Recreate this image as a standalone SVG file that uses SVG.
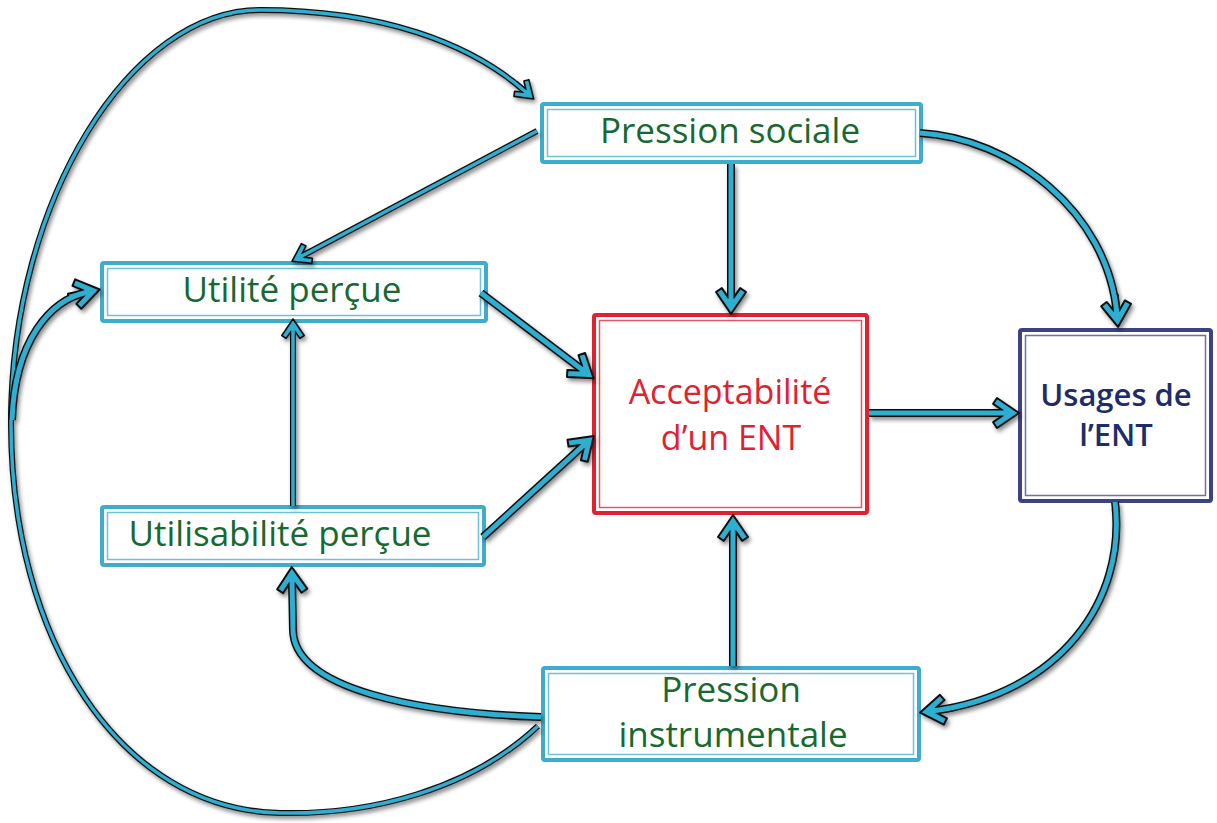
<svg xmlns="http://www.w3.org/2000/svg" width="1217" height="823" viewBox="0 0 1217 823">
<style>
.box{fill:#fff;stroke:#3eaccb;stroke-width:4}
.inner{fill:none;stroke:#6cc2d9;stroke-width:1.5}
.rbox{fill:#fff;stroke:#e0222f;stroke-width:4}
.rinner{fill:none;stroke:#e65560;stroke-width:1.5}
.nbox{fill:#fff;stroke:#3d4282;stroke-width:4}
.ninner{fill:none;stroke:#6e72a3;stroke-width:1.5}
.g{font-family:"Open Sans","Liberation Sans",sans-serif;font-size:35px;font-weight:500;fill:#16692f;text-anchor:middle}
.r{font-family:"Open Sans","Liberation Sans",sans-serif;font-size:34px;font-weight:500;fill:#e0222f;text-anchor:middle}
.n{font-family:"Open Sans","Liberation Sans",sans-serif;font-size:31px;font-weight:600;fill:#1d2c6b;text-anchor:middle}
.o{fill:none;stroke:#111;stroke-width:8;stroke-linecap:butt}
.f{fill:none;stroke:#2eaed0;stroke-width:5;stroke-linecap:butt}
.ot{fill:none;stroke:#111;stroke-width:6}
.ft{fill:none;stroke:#2eaed0;stroke-width:3.5}
.big{marker-end:url(#ah)}
.sm{marker-end:url(#ahs)}
</style>
<defs>
<marker id="ah" markerUnits="userSpaceOnUse" viewBox="-25 -20 40 40" refX="0" refY="0" markerWidth="40" markerHeight="40" orient="auto" overflow="visible">
<polygon points="12,0 -10,-15 -13.9,-9.2 -4.1,-2.5 -20,-2.5 -20,2.5 -4.1,2.5 -13.9,9.2 -10,15" fill="#2eaed0" stroke="#111" stroke-width="2" stroke-linejoin="round"/>
</marker>
<marker id="ahs" markerUnits="userSpaceOnUse" viewBox="-25 -20 40 40" refX="0" refY="0" markerWidth="40" markerHeight="40" orient="auto" overflow="visible">
<polygon points="9,0 -7.5,-11.2 -10.4,-6.9 -3.1,-1.8 -15,-1.8 -15,1.8 -3.1,1.8 -10.4,6.9 -7.5,11.2" fill="#2eaed0" stroke="#111" stroke-width="1.6" stroke-linejoin="round"/>
</marker>
<filter id="sh" x="-5%" y="-5%" width="110%" height="110%">
<feDropShadow dx="2" dy="3" stdDeviation="2" flood-color="#000" flood-opacity="0.45"/>
</filter>
<path id="p1" d="M731,164 L731,302"/>
<path id="p2" d="M537,131 L300,257"/>
<path id="p3" d="M920,133 C1010,138 1108,210 1117,315"/>
<path id="p4" d="M481,293 L584,371"/>
<path id="p5" d="M483,537 L585,444"/>
<path id="p6" d="M293,506 L293,328"/>
<path id="p7" d="M869,413 L1007,413"/>
<path id="p8" d="M1115,502 C1127,600 1060,694 932,711"/>
<path id="p9" d="M733,666 L733,527"/>
<path id="p10" d="M541,717 C420,713 294,690 293,630 L292,579"/>
<path id="p11" d="M538,726 C470,790 370,815 280,813 C120,810 10,640 11,420 C12,200 130,10 260,10 C380,10 470,42 527,93"/>
<path id="p12" d="M12,420 C15,340 50,300 88,292"/>
</defs>

<g id="node-pression-sociale">
<rect class="box" x="542" y="104" width="379" height="58" rx="2"/>
<rect class="inner" x="547.5" y="109.5" width="368" height="47"/>
<text class="g" x="730" y="143">Pression sociale</text>
</g>
<g id="node-utilite">
<rect class="box" x="102" y="263" width="384" height="58" rx="2"/>
<rect class="inner" x="107.5" y="268.5" width="373" height="47"/>
<text class="g" x="292" y="302">Utilité perçue</text>
</g>
<g id="node-utilisabilite">
<rect class="box" x="102" y="507" width="382" height="58" rx="2"/>
<rect class="inner" x="107.5" y="512.5" width="371" height="47"/>
<text class="g" x="280" y="546">Utilisabilité perçue</text>
</g>
<g id="node-acceptabilite">
<rect class="rbox" x="594" y="315" width="273" height="198" rx="2"/>
<rect class="rinner" x="599.5" y="320.5" width="262" height="187"/>
<text class="r" x="730" y="404">Acceptabilité</text>
<text class="r" x="731" y="450">d’un ENT</text>
</g>
<g id="node-usages">
<rect class="nbox" x="1020" y="330" width="191" height="171" rx="2"/>
<rect class="ninner" x="1025.5" y="335.5" width="180" height="160"/>
<text class="n" x="1116" y="406">Usages de</text>
<text class="n" x="1116" y="446">l’ENT</text>
</g>
<g id="node-pression-instrumentale">
<rect class="box" x="543" y="668" width="376" height="92" rx="2"/>
<rect class="inner" x="548.5" y="673.5" width="365" height="81"/>
<text class="g" x="731" y="702">Pression</text>
<text class="g" x="733" y="747">instrumentale</text>
</g>

<g id="connectors" filter="url(#sh)">
<use href="#p11" class="ot sm"/><use href="#p11" class="ft"/>
<use href="#p12" class="o big"/><use href="#p12" class="f"/>
<use href="#p2" class="ot sm"/><use href="#p2" class="ft"/>
<use href="#p6" class="ot sm"/><use href="#p6" class="ft"/>
<use href="#p1" class="o big"/><use href="#p1" class="f"/>
<use href="#p3" class="o big"/><use href="#p3" class="f"/>
<use href="#p4" class="o big"/><use href="#p4" class="f"/>
<use href="#p5" class="o big"/><use href="#p5" class="f"/>
<use href="#p7" class="o big"/><use href="#p7" class="f"/>
<use href="#p8" class="o big"/><use href="#p8" class="f"/>
<use href="#p9" class="o big"/><use href="#p9" class="f"/>
<use href="#p10" class="o big"/><use href="#p10" class="f"/>
</g>
</svg>
